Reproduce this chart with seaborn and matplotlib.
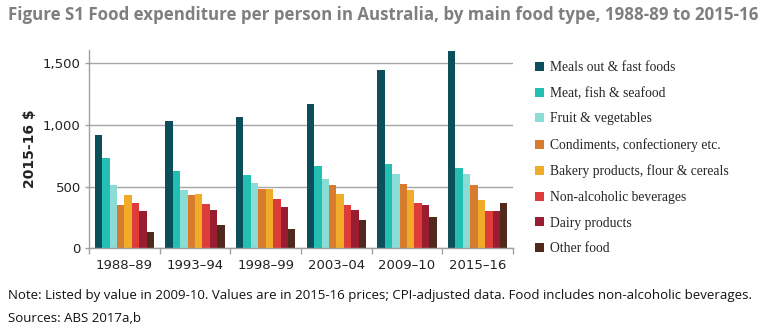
import matplotlib
matplotlib.use("Agg")
import matplotlib.pyplot as plt
from matplotlib.ticker import FuncFormatter, FixedLocator
import seaborn as sns
import pandas as pd

years = ["1988\u201389", "1993\u201394", "1998\u201399", "2003\u201304", "2009\u201310", "2015\u201316"]
food_types = [
    "Meals out & fast foods",
    "Meat, fish & seafood",
    "Fruit & vegetables",
    "Condiments, confectionery etc.",
    "Bakery products, flour & cereals",
    "Non-alcoholic beverages",
    "Dairy products",
    "Other food",
]
meals_out = [919, 1030, 1068, 1168, 1451, 1605]
meat_fish = [732, 624, 597, 665, 684, 651]
fruit_veg = [514, 476, 530, 562, 603, 603]
condiments = [354, 430, 481, 511, 522, 511]
bakery = [430, 441, 481, 443, 470, 392]
non_alcoholic = [368, 362, 400, 349, 368, 300]
dairy = [300, 314, 335, 314, 349, 300]
other_food = [132, 186, 154, 232, 251, 368]

palette = ["#0b4f5b", "#22bfb2", "#8adcd5", "#d77b2e", "#f0ac29",
           "#de3b3b", "#9a1c31", "#50291c"]

series = [meals_out, meat_fish, fruit_veg, condiments, bakery,
          non_alcoholic, dairy, other_food]
rows = []
for name, vals in zip(food_types, series):
    for yr, v in zip(years, vals):
        rows.append({"Year": yr, "Food type": name, "Spend": v})
df = pd.DataFrame(rows)

sns.set_theme(style="white")
plt.rcParams["font.family"] = ["DejaVu Sans"]

fig = plt.figure(figsize=(7.68, 3.35), dpi=100)
ax = fig.add_axes([0.116, 0.259, 0.552, 0.592])

sns.barplot(data=df, x="Year", y="Spend", hue="Food type", order=years,
            hue_order=food_types, palette=palette, width=0.84,
            saturation=1, linewidth=0, ax=ax, legend=True)

ax.set_ylim(0, 1610)
ax.set_xlim(-0.5, 5.5)
ax.yaxis.set_major_locator(FixedLocator([0, 500, 1000, 1500]))
ax.yaxis.set_major_formatter(FuncFormatter(lambda v, p: f"{int(v):,}"))
ax.grid(axis="y", color="#a6a6a6", linewidth=1)
ax.set_axisbelow(True)
for s in ["top", "right"]:
    ax.spines[s].set_visible(False)
for s in ["left", "bottom"]:
    ax.spines[s].set_color("#a0a0a0")
    ax.spines[s].set_linewidth(1)

ax.xaxis.set_minor_locator(FixedLocator([i - 0.5 for i in range(7)]))
ax.tick_params(axis="x", which="major", length=0, pad=8, labelsize=9.5,
               labelcolor="#222222")
ax.tick_params(axis="x", which="minor", length=4, width=1, color="#a0a0a0",
               bottom=True)
ax.tick_params(axis="y", length=3, width=1, color="#a0a0a0", left=True,
               labelsize=9.5, labelcolor="#222222", pad=3)
ax.set_xlabel("")
ax.set_ylabel("2015-16 $", fontsize=10, fontweight="bold", color="#222222",
              labelpad=4)

handles, labels = ax.get_legend_handles_labels()
ax.legend(handles, labels, loc="upper left", bbox_to_anchor=(1.024, 1.005),
          frameon=False, handlelength=0.65, handleheight=0.65,
          handletextpad=0.4, labelspacing=0.93,
          prop={"family": "Liberation Serif", "size": 9.8})

fig.text(0.01, 0.955, "Figure S1 Food expenditure per person in Australia, by main food type, 1988-89 to 2015-16",
         fontsize=12.2, fontweight="bold", color="#7f7f7f", family="Open Sans",
         va="center", ha="left")
fig.text(0.01, 0.117, "Note: Listed by value in 2009-10. Values are in 2015-16 prices; CPI-adjusted data. Food includes non-alcoholic beverages.",
         fontsize=9.5, color="#111111", family="Open Sans", va="center", ha="left")
fig.text(0.01, 0.05, "Sources: ABS 2017a,b",
         fontsize=9.5, color="#111111", family="Open Sans", va="center", ha="left")

fig.savefig("out.png", dpi=100, facecolor="white")
